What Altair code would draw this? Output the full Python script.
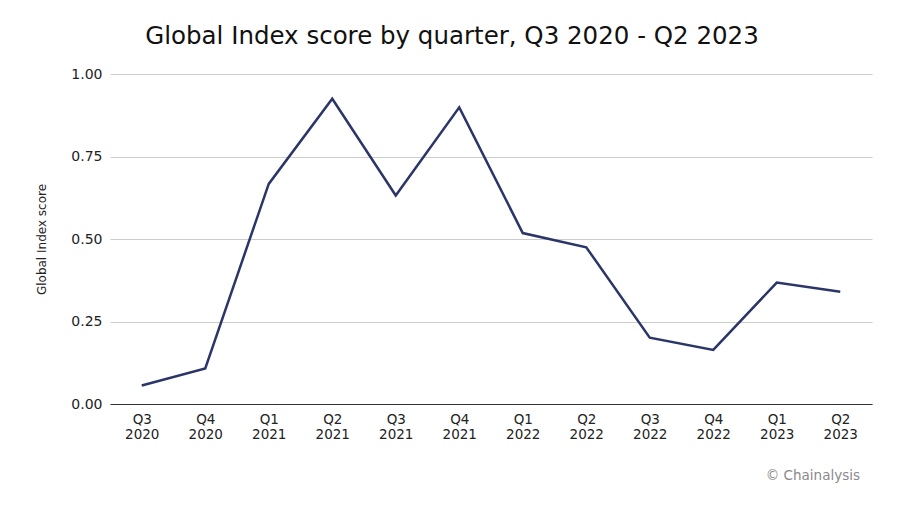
import altair as alt
import pandas as pd

quarters = ["Q3 2020", "Q4 2020", "Q1 2021", "Q2 2021", "Q3 2021", "Q4 2021",
            "Q1 2022", "Q2 2022", "Q3 2022", "Q4 2022", "Q1 2023", "Q2 2023"]
scores = [0.056, 0.108, 0.667, 0.925, 0.632, 0.899,
          0.518, 0.475, 0.201, 0.164, 0.368, 0.340]

df = pd.DataFrame({"quarter": quarters, "score": scores})

FONT = "DejaVu Sans"

line = alt.Chart(df).mark_line(color="#2b3568", strokeWidth=2.5).encode(
    x=alt.X("quarter:N", sort=quarters, title=None,
            scale=alt.Scale(paddingInner=0, paddingOuter=0.5),
            axis=alt.Axis(labelAngle=0, labelExpr="split(datum.label, ' ')",
                          labelLineHeight=15, labelFontSize=13.5, labelColor="#222",
                          labelFont=FONT, labelPadding=8,
                          domainColor="#333", domainWidth=1.2, ticks=False, grid=False)),
    y=alt.Y("score:Q", title="Global Index score",
            scale=alt.Scale(domain=[0, 1]),
            axis=alt.Axis(values=[0, 0.25, 0.5, 0.75, 1.0], format=".2f",
                          labelFontSize=14, labelColor="#222", labelFont=FONT,
                          labelPadding=8, ticks=False, domain=False,
                          gridColor="#cccccc", gridWidth=1,
                          titleFont=FONT, titleFontSize=12, titleFontWeight="normal",
                          titleColor="#222", titlePadding=22)),
)

credit = alt.Chart(pd.DataFrame({"t": ["© Chainalysis"]})).mark_text(
    align="right", baseline="middle", fontSize=13.5, font=FONT, color="#8a8a8a"
).encode(text="t:N", x=alt.value(750), y=alt.value(402))

chart = alt.layer(line, credit).properties(
    width=762, height=330,
    autosize=alt.AutoSizeParams(type="none"),
    padding={"left": 102, "top": 66, "right": 20, "bottom": 94},
    title=alt.TitleParams("Global Index score by quarter, Q3 2020 - Q2 2023",
                          font=FONT, fontSize=24.5, fontWeight="normal",
                          color="#111", anchor="middle", dx=-39, offset=18),
).configure(background="white").configure_view(stroke=None)

chart.save("out.html", embed_options={"renderer": "svg", "actions": False})
